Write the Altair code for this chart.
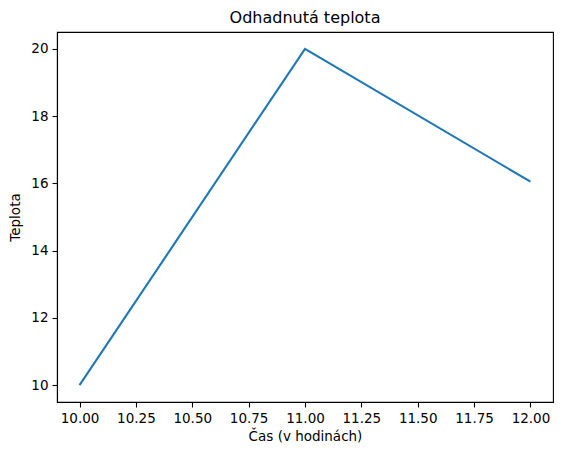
import altair as alt
import pandas as pd

cas = [10.0, 11.0, 12.0]
teplota = [10.0, 20.0, 16.05]
x_ticks = [10.0, 10.25, 10.5, 10.75, 11.0, 11.25, 11.5, 11.75, 12.0]
y_ticks = [10, 12, 14, 16, 18, 20]

df = pd.DataFrame({"cas": cas, "teplota": teplota})

font = "DejaVu Sans"

chart = alt.Chart(df).mark_line(color="#1f77b4", strokeWidth=2.1).encode(
    x=alt.X("cas:Q", title="Čas (v hodinách)",
            scale=alt.Scale(domain=[9.9, 12.1], nice=False, zero=False),
            axis=alt.Axis(values=x_ticks, format=".2f", grid=False)),
    y=alt.Y("teplota:Q", title="Teplota",
            scale=alt.Scale(domain=[9.5, 20.5], nice=False, zero=False),
            axis=alt.Axis(values=y_ticks, format="d", grid=False)),
).properties(
    width=496, height=370,
    title=alt.TitleParams("Odhadnutá teplota", font=font, fontSize=16, fontWeight="normal",
                          color="black", offset=6),
    autosize=alt.AutoSizeParams(type="none"),
    padding={"left": 49, "top": 24, "right": 2, "bottom": 46},
).configure_view(
    stroke="black", strokeWidth=1.1
).configure_axis(
    domainColor="black", domainWidth=1.1, tickColor="black", tickSize=5, tickWidth=1.1,
    labelFont=font, labelFontSize=13.5, labelColor="black", labelPadding=4,
    titleFont=font, titleFontSize=13.5, titleFontWeight="normal", titleColor="black",
).configure_axisX(titlePadding=5).configure_axisY(titlePadding=8)

chart.save("out.html", embed_options={"renderer": "svg", "actions": False})
